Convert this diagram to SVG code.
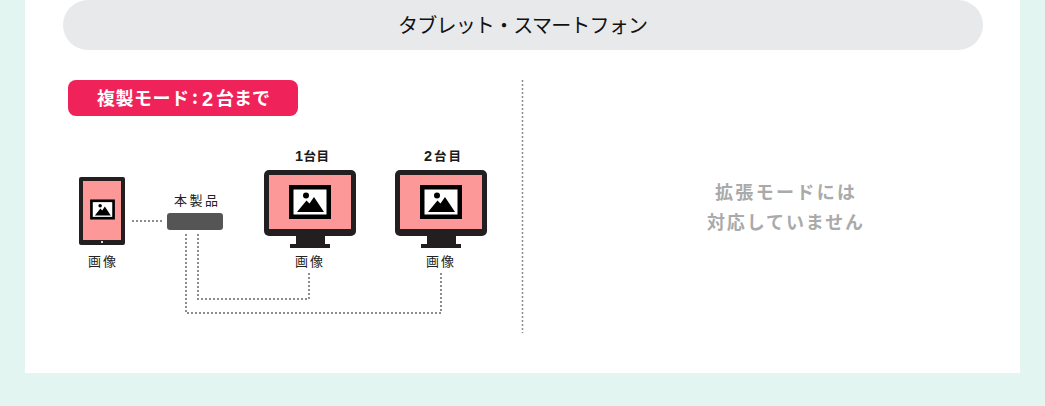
<svg xmlns="http://www.w3.org/2000/svg" width="1045" height="406" viewBox="0 0 1045 406">
<style>
text{font-family:"Noto Sans CJK JP","Noto Sans",sans-serif;text-anchor:middle}
.lbl{font-size:13px;fill:#222}
.num{font-size:12.500px;fill:#1a1a1a;font-weight:700}
.big{font-size:14.500px;font-family:"Liberation Sans",sans-serif}
.bt{font-weight:700;fill:#fff;font-size:18px;text-anchor:start}
.dk{fill:#231f20}
.scr{fill:#fd9898}
.dot{fill:none;stroke:#8c8c8c;stroke-width:2;stroke-dasharray:2 2}
.note{font-size:18px;font-weight:700;fill:#aaa}
</style>
<defs>
<g id="pic">
<rect x="-21" y="-17" width="42" height="34" fill="#000"/>
<rect x="-16.500" y="-12.500" width="33" height="25" fill="#fff"/>
<circle cx="-4" cy="-6.500" r="3" fill="#000"/>
<path d="M-13 10L-3.500 -1.500L-0.500 1.500L4 -5L14 10Z" fill="#000"/>
</g>
<g id="mon">
<rect x="264" y="170" width="92" height="66" rx="5" class="dk"/>
<rect x="269" y="175" width="82" height="54" class="scr"/>
<rect x="296" y="236" width="29" height="8" class="dk"/>
<rect x="290" y="244" width="40" height="4" class="dk"/>
<use href="#pic" x="310" y="202"/>
</g>
</defs>
<rect width="1045" height="406" fill="#e2f5f0"/>
<rect x="25" y="0" width="995" height="373" fill="#fff"/>
<g id="header">
<rect x="63" y="0" width="920" height="50" rx="25" fill="#e8e9eb"/>
<text x="523" y="33" font-size="20" fill="#111" textLength="250">タブレット・スマートフォン</text>
</g>
<g id="mode-badge">
<rect x="68" y="80" width="230" height="36" rx="8" fill="#ef2259"/>
<text class="bt" x="97" y="105" textLength="92">複製モード</text>
<text class="bt" x="192" y="104">:</text>
<text class="bt" x="202" y="106" style="font-size:20px;font-family:'Liberation Sans',sans-serif">2</text>
<text class="bt" x="216" y="105" textLength="54">台まで</text>
</g>
<g id="connectors">
<path class="dot" d="M132 221H163"/>
<path class="dot" d="M198 234V299H309V273"/>
<path class="dot" d="M186 234V313H441V273"/>
<path d="M522.500 80V333" fill="none" stroke="#8c8c8c" stroke-width="1.500" stroke-dasharray="2 2"/>
</g>
<g id="tablet">
<rect x="79" y="177" width="46" height="68" rx="2" class="dk"/>
<rect x="83" y="181" width="38" height="59" class="scr"/>
<rect x="101" y="241" width="2" height="2" fill="#ddd"/>
<g transform="translate(102.500 209.500) scale(0.59)"><use href="#pic"/></g>
<text class="lbl" x="102" y="265.500" textLength="28">画像</text>
</g>
<g id="device">
<text class="lbl" x="196" y="204.500" textLength="44">本製品</text>
<rect x="167" y="213" width="56" height="17" rx="3" fill="#555"/>
</g>
<g id="monitor-1">
<text class="num" x="312" y="161" textLength="34"><tspan class="big">1</tspan>台目</text>
<use href="#mon"/>
<text class="lbl" x="309" y="265.500" textLength="28">画像</text>
</g>
<g id="monitor-2">
<text class="num" x="442.500" y="161" textLength="37"><tspan class="big">2</tspan>台目</text>
<use href="#mon" x="131"/>
<text class="lbl" x="440" y="265.500" textLength="28">画像</text>
</g>
<g id="note">
<text class="note" x="785" y="199" textLength="140">拡張モードには</text>
<text class="note" x="785" y="229" textLength="156">対応していません</text>
</g>
</svg>
